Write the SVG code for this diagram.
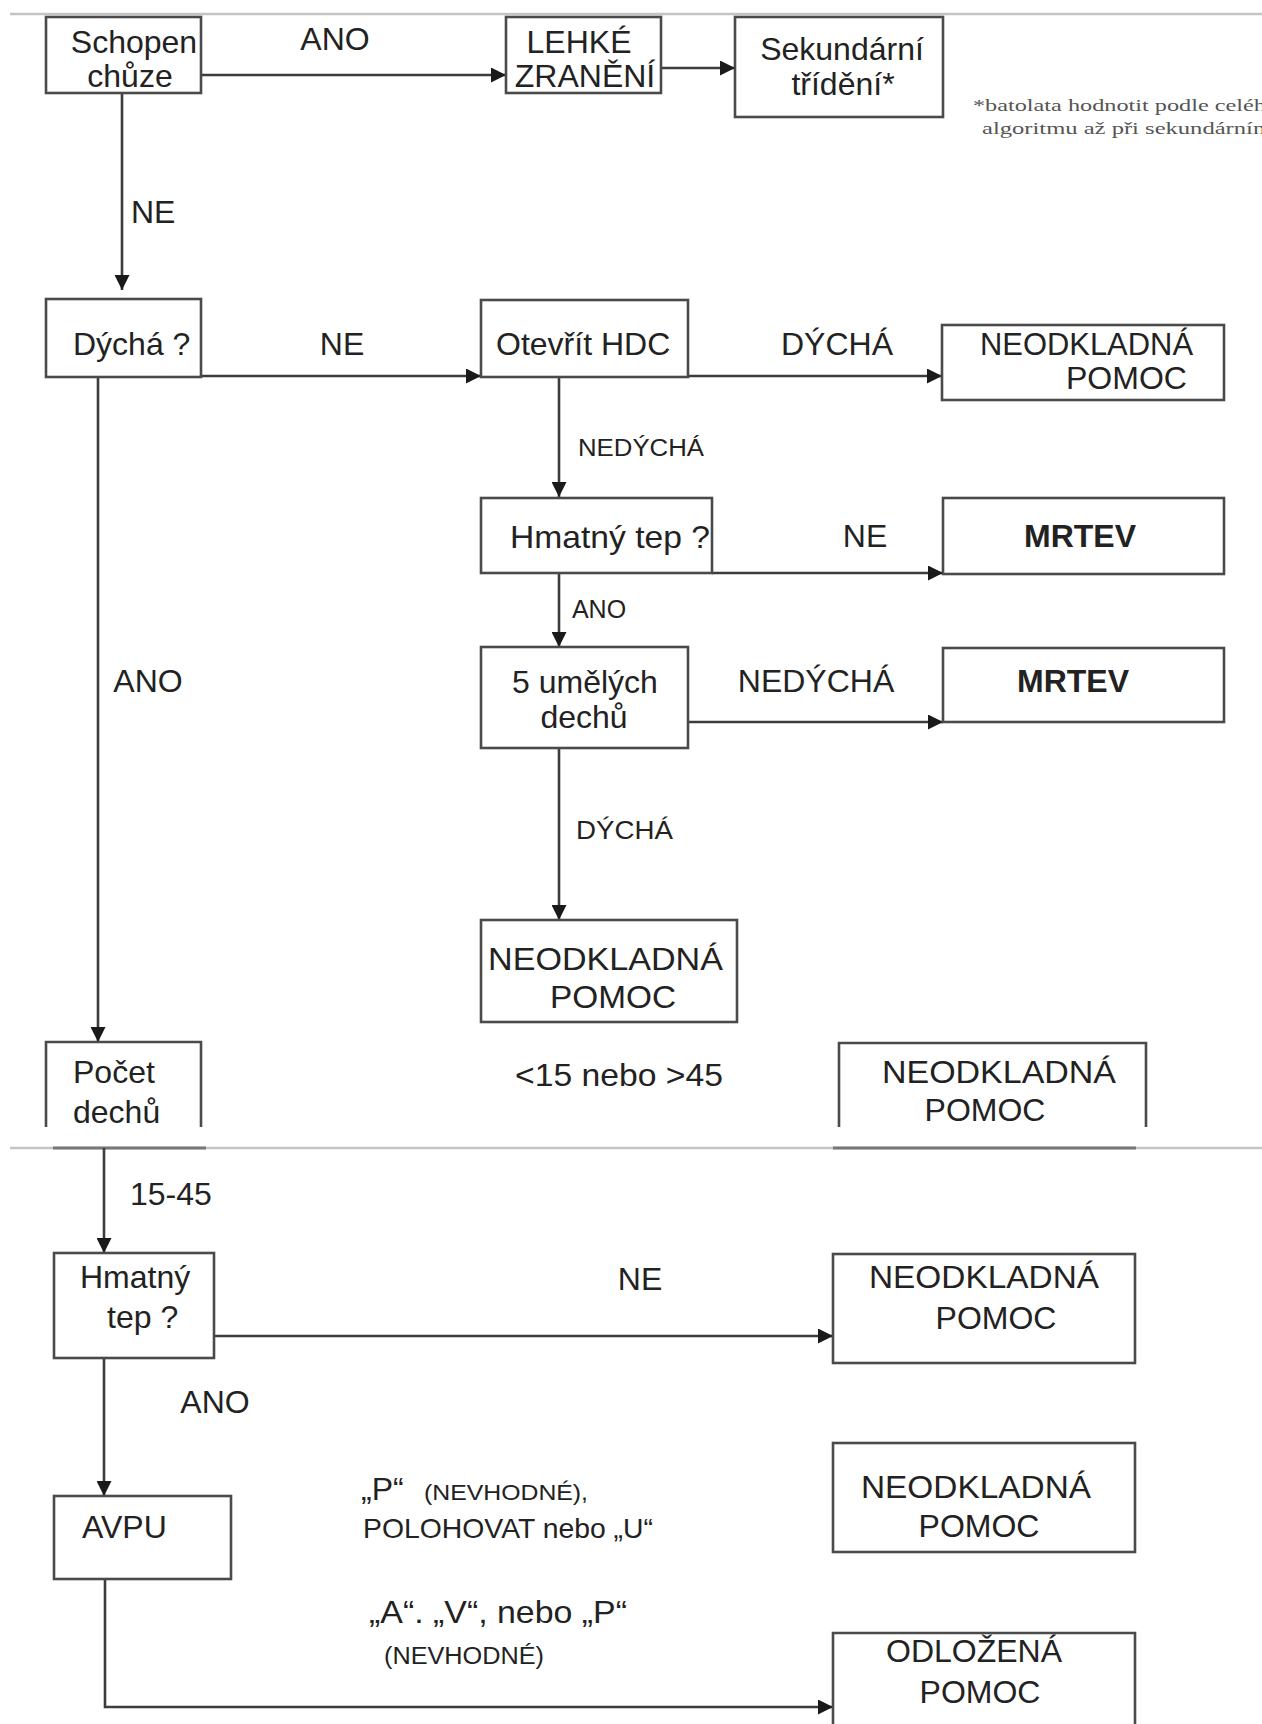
<svg xmlns="http://www.w3.org/2000/svg" width="1262" height="1724" viewBox="0 0 1262 1724">
<style>
.bg{fill:#ffffff}
.box{fill:#ffffff;stroke:#4a4a4a;stroke-width:2.6}
.obox{fill:none;stroke:#4a4a4a;stroke-width:2.6}
.conn{fill:none;stroke:#3c3c3c;stroke-width:2.6}
.sep{fill:none;stroke:#c4c4c4;stroke-width:2.5}
.t{font-family:"Liberation Sans",Arial,sans-serif;font-size:32px;fill:#222}
.c{text-anchor:middle}
.b{font-weight:bold}
.s{font-size:25px}
.fn{font-family:"Liberation Serif","Times New Roman",serif;font-size:16px;fill:#555}
</style>
<defs>
<marker id="ah" viewBox="0 0 10 10" refX="10" refY="5" markerWidth="20" markerHeight="15" markerUnits="userSpaceOnUse" orient="auto">
<path d="M0,0 L10,5 L0,10 z" fill="#1a1a1a"/>
</marker>
</defs>
<rect class="bg" x="0" y="0" width="1262" height="1724"/>

<g id="separators">
<line class="sep" x1="10" y1="14" x2="1262" y2="14"/>
<line class="sep" x1="10" y1="1148" x2="1262" y2="1148"/>
<line x1="53" y1="1148" x2="206" y2="1148" stroke="#777" stroke-width="3"/>
<line x1="833" y1="1148" x2="1136" y2="1148" stroke="#777" stroke-width="3"/>
</g>

<g id="connectors">
<path class="conn" d="M201,75 L506,75" marker-end="url(#ah)"/>
<path class="conn" d="M661,68 L735,68" marker-end="url(#ah)"/>
<path class="conn" d="M122,93 L122,290" marker-end="url(#ah)"/>
<path class="conn" d="M201,376 L481,376" marker-end="url(#ah)"/>
<path class="conn" d="M688,376 L942,376" marker-end="url(#ah)"/>
<path class="conn" d="M559,377 L559,497" marker-end="url(#ah)"/>
<path class="conn" d="M712,573 L943,573" marker-end="url(#ah)"/>
<path class="conn" d="M559,573 L559,647" marker-end="url(#ah)"/>
<path class="conn" d="M688,722 L943,722" marker-end="url(#ah)"/>
<path class="conn" d="M559,748 L559,920" marker-end="url(#ah)"/>
<path class="conn" d="M98,377 L98,1042" marker-end="url(#ah)"/>
<path class="conn" d="M104,1148 L104,1253" marker-end="url(#ah)"/>
<path class="conn" d="M214,1336 L833,1336" marker-end="url(#ah)"/>
<path class="conn" d="M104,1358 L104,1496" marker-end="url(#ah)"/>
<path class="conn" d="M105,1579 L105,1707 L833,1707" marker-end="url(#ah)"/>
</g>

<g id="edge-labels">
<text class="t c" x="335" y="50">ANO</text>
<text class="t" x="131" y="223">NE</text>
<text class="t c" x="342" y="355">NE</text>
<text class="t c" x="837" y="355">DÝCHÁ</text>
<text class="t" x="578" y="456" style="font-size:23px" textLength="126" lengthAdjust="spacingAndGlyphs">NEDÝCHÁ</text>
<text class="t c" x="865" y="547">NE</text>
<text class="t c s" x="599" y="618">ANO</text>
<text class="t c" x="816" y="692">NEDÝCHÁ</text>
<text class="t s" x="576" y="839" textLength="97" lengthAdjust="spacingAndGlyphs">DÝCHÁ</text>
<text class="t c" x="148" y="692">ANO</text>
<text class="t" x="515" y="1086" textLength="208" lengthAdjust="spacingAndGlyphs">&lt;15 nebo &gt;45</text>
<text class="t" x="130" y="1205">15-45</text>
<text class="t c" x="640" y="1290">NE</text>
<text class="t c" x="215" y="1413">ANO</text>
<text class="t" x="361" y="1500">„P“</text>
<text class="t" x="424" y="1500" style="font-size:22px" textLength="164" lengthAdjust="spacingAndGlyphs">(NEVHODNÉ),</text>
<text class="t" x="363" y="1538" style="font-size:28px" textLength="290" lengthAdjust="spacingAndGlyphs">POLOHOVAT nebo „U“</text>
<text class="t" x="369" y="1623" textLength="258" lengthAdjust="spacingAndGlyphs">„A“. „V“, nebo „P“</text>
<text class="t" x="384" y="1664" style="font-size:23px" textLength="160" lengthAdjust="spacingAndGlyphs">(NEVHODNÉ)</text>
</g>

<g id="footnote">
<text class="fn" x="973" y="111" textLength="305" lengthAdjust="spacingAndGlyphs">*batolata hodnotit podle celého</text>
<text class="fn" x="982" y="134" textLength="290" lengthAdjust="spacingAndGlyphs">algoritmu až při sekundárním</text>
</g>

<g id="n-schopen">
<rect class="box" x="46" y="17" width="155" height="76"/>
<text class="t c" x="134" y="53">Schopen</text>
<text class="t c" x="130" y="87">chůze</text>
</g>
<g id="n-lehke">
<rect class="box" x="506" y="17" width="155" height="76"/>
<text class="t c" x="579" y="53">LEHKÉ</text>
<text class="t c" x="585" y="87">ZRANĚNÍ</text>
</g>
<g id="n-sekundarni">
<rect class="box" x="735" y="17" width="208" height="100"/>
<text class="t c" x="842" y="60">Sekundární</text>
<text class="t c" x="843" y="95">třídění*</text>
</g>
<g id="n-dycha">
<rect class="box" x="46" y="299" width="155" height="78"/>
<text class="t" x="73" y="355">Dýchá ?</text>
</g>
<g id="n-otevrit">
<rect class="box" x="481" y="300" width="207" height="77"/>
<text class="t" x="496" y="355">Otevřít HDC</text>
</g>
<g id="n-neodkladna1">
<rect class="box" x="942" y="325" width="282" height="75"/>
<text class="t" x="980" y="355" textLength="213" lengthAdjust="spacingAndGlyphs">NEODKLADNÁ</text>
<text class="t" x="1066" y="389">POMOC</text>
</g>
<g id="n-hmatny1">
<rect class="box" x="481" y="498" width="231" height="75"/>
<text class="t" x="510" y="548" textLength="200" lengthAdjust="spacingAndGlyphs">Hmatný tep ?</text>
</g>
<g id="n-mrtev1">
<rect class="box" x="943" y="498" width="281" height="76"/>
<text class="t c b" x="1080" y="547">MRTEV</text>
</g>
<g id="n-umelych">
<rect class="box" x="481" y="647" width="207" height="101"/>
<text class="t" x="512" y="693">5 umělých</text>
<text class="t c" x="584" y="728">dechů</text>
</g>
<g id="n-mrtev2">
<rect class="box" x="943" y="648" width="281" height="74"/>
<text class="t c b" x="1073" y="692">MRTEV</text>
</g>
<g id="n-neodkladna2">
<rect class="box" x="481" y="920" width="256" height="102"/>
<text class="t" x="488" y="970" textLength="235" lengthAdjust="spacingAndGlyphs">NEODKLADNÁ</text>
<text class="t" x="550" y="1008" textLength="126" lengthAdjust="spacingAndGlyphs">POMOC</text>
</g>
<g id="n-pocet">
<path class="obox" d="M46,1127 L46,1042 L201,1042 L201,1127"/>
<text class="t" x="73" y="1083">Počet</text>
<text class="t" x="73" y="1123">dechů</text>
</g>
<g id="n-neodkladna3">
<path class="obox" d="M839,1127 L839,1043 L1146,1043 L1146,1127"/>
<text class="t" x="882" y="1083" textLength="234" lengthAdjust="spacingAndGlyphs">NEODKLADNÁ</text>
<text class="t c" x="985" y="1121">POMOC</text>
</g>
<g id="n-hmatny2">
<rect class="box" x="54" y="1253" width="160" height="105"/>
<text class="t" x="80" y="1288">Hmatný</text>
<text class="t" x="107" y="1328">tep ?</text>
</g>
<g id="n-neodkladna4">
<rect class="box" x="833" y="1254" width="302" height="109"/>
<text class="t c" x="984" y="1288" textLength="230" lengthAdjust="spacingAndGlyphs">NEODKLADNÁ</text>
<text class="t c" x="996" y="1329">POMOC</text>
</g>
<g id="n-avpu">
<rect class="box" x="54" y="1496" width="177" height="83"/>
<text class="t" x="82" y="1538">AVPU</text>
</g>
<g id="n-neodkladna5">
<rect class="box" x="833" y="1443" width="302" height="109"/>
<text class="t c" x="976" y="1498" textLength="230" lengthAdjust="spacingAndGlyphs">NEODKLADNÁ</text>
<text class="t c" x="979" y="1537">POMOC</text>
</g>
<g id="n-odlozena">
<path class="obox" d="M833,1730 L833,1633 L1135,1633 L1135,1730"/>
<text class="t c" x="974" y="1662">ODLOŽENÁ</text>
<text class="t c" x="980" y="1703">POMOC</text>
</g>
</svg>
